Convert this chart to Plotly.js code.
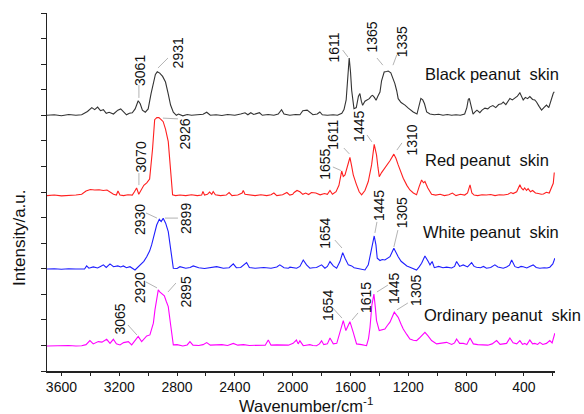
<!DOCTYPE html>
<html>
<head>
<meta charset="utf-8">
<script src="https://cdn.plot.ly/plotly-3.0.1.min.js"></script>
<style>html,body{margin:0;padding:0;background:#fff;}#chart{width:584px;height:414px;}</style>
</head>
<body>
<div id="chart"></div>
<script>
// ---- Data: [wavenumber (cm-1), relative intensity (a.u.)] ----
const blackSkin = [[3700,0.0],[3650,0.02],[3600,-0.02],[3550,0.03],[3500,0.0],[3460,0.02],[3420,0.15],[3390,0.3],[3370,0.22],[3350,0.32],[3330,0.18],[3310,0.22],[3290,0.08],[3270,0.12],[3240,0.05],[3210,0.2],[3190,0.25],[3170,0.15],[3150,0.02],[3130,0.08],[3110,0.1],[3090,0.25],[3069,0.57],[3055,0.45],[3040,0.2],[3020,0.12],[3000,0.25],[2980,0.85],[2965,1.3],[2950,1.6],[2937,1.7],[2920,1.65],[2900,1.52],[2880,1.3],[2862,0.86],[2845,0.4],[2826,0.12],[2805,0.0],[2790,0.05],[2760,-0.02],[2730,0.03],[2700,0.0],[2660,0.02],[2620,0.04],[2595,0.12],[2570,0.0],[2530,0.02],[2490,-0.01],[2450,0.03],[2400,0.0],[2360,0.05],[2330,0.1],[2310,0.02],[2290,0.1],[2270,0.03],[2250,0.08],[2230,0.1],[2210,0.0],[2170,0.03],[2130,0.0],[2100,0.05],[2077,0.22],[2060,0.05],[2020,0.0],[1980,0.03],[1950,0.02],[1930,0.18],[1900,0.2],[1880,0.12],[1860,0.02],[1830,0.05],[1812,0.13],[1795,0.02],[1760,0.0],[1720,0.02],[1690,0.0],[1660,0.08],[1645,0.22],[1630,0.6],[1620,1.6],[1609,2.24],[1600,1.7],[1592,0.98],[1576,0.26],[1560,0.3],[1545,0.75],[1535,0.85],[1525,0.55],[1516,0.39],[1500,0.55],[1488,0.59],[1470,0.65],[1455,0.76],[1447,0.78],[1435,0.7],[1423,0.59],[1410,0.75],[1396,0.91],[1385,1.35],[1367,1.69],[1350,1.71],[1339,1.73],[1321,1.66],[1305,1.45],[1293,1.24],[1280,0.95],[1270,0.65],[1250,0.5],[1235,0.45],[1223,0.4],[1200,0.28],[1180,0.18],[1166,0.13],[1140,0.05],[1125,0.4],[1113,0.66],[1100,0.6],[1088,0.45],[1073,0.13],[1050,0.05],[1020,0.02],[990,0.04],[960,0.0],[930,0.03],[900,0.0],[870,0.02],[840,0.0],[810,0.05],[795,0.3],[785,0.62],[778,0.66],[768,0.4],[752,0.05],[740,0.12],[725,0.2],[705,0.1],[690,0.2],[670,0.28],[650,0.25],[635,0.33],[615,0.38],[595,0.3],[575,0.42],[555,0.45],[543,0.52],[525,0.42],[510,0.55],[497,0.66],[480,0.6],[460,0.7],[445,0.75],[428,0.88],[415,0.7],[405,0.6],[390,0.7],[375,0.65],[359,0.73],[340,0.62],[325,0.6],[313,0.52],[295,0.35],[278,0.2],[262,0.3],[244,0.4],[228,0.3],[215,0.55],[197,0.86],[190,0.92]];

const redSkin = [[3700,0.0],[3650,0.02],[3600,-0.01],[3550,0.0],[3500,0.02],[3460,0.05],[3430,0.18],[3400,0.24],[3370,0.22],[3340,0.23],[3310,0.2],[3285,0.22],[3260,0.12],[3240,0.05],[3220,0.02],[3209,0.18],[3195,0.02],[3170,0.0],[3140,0.03],[3110,0.02],[3095,0.15],[3080,0.3],[3065,0.05],[3050,0.2],[3030,0.4],[3010,0.5],[2990,0.65],[2970,1.8],[2955,2.97],[2940,3.05],[2926,3.05],[2910,2.97],[2896,2.89],[2880,2.6],[2861,2.11],[2845,1.0],[2831,0.03],[2810,0.0],[2780,0.02],[2740,0.0],[2700,0.03],[2660,0.0],[2630,0.02],[2621,0.16],[2610,0.02],[2590,0.05],[2575,0.14],[2560,0.05],[2550,0.16],[2535,0.03],[2500,0.0],[2460,0.02],[2440,0.12],[2420,0.0],[2380,0.02],[2350,0.1],[2342,0.2],[2330,0.05],[2300,0.02],[2260,0.0],[2220,0.03],[2180,0.0],[2150,0.03],[2130,0.1],[2110,0.0],[2070,0.03],[2040,0.12],[2020,0.02],[2000,0.05],[1990,0.12],[1970,0.2],[1950,0.15],[1930,0.05],[1910,0.1],[1890,0.04],[1870,0.12],[1840,0.1],[1810,0.03],[1780,0.08],[1760,0.05],[1742,0.2],[1725,0.05],[1700,0.15],[1680,0.4],[1661,0.96],[1650,0.75],[1638,0.81],[1620,1.2],[1604,1.49],[1592,1.15],[1581,0.81],[1560,0.45],[1540,0.15],[1523,0.03],[1500,0.2],[1477,0.55],[1454,1.2],[1436,2.0],[1420,1.59],[1410,1.1],[1401,0.74],[1385,0.9],[1362,1.07],[1345,1.2],[1327,1.36],[1300,1.62],[1285,1.45],[1270,1.2],[1250,0.9],[1235,0.68],[1210,0.4],[1189,0.22],[1165,0.1],[1143,0.03],[1125,0.35],[1108,0.61],[1095,0.5],[1085,0.55],[1065,0.3],[1039,0.05],[1010,0.02],[980,0.05],[950,0.0],[920,0.03],[895,0.1],[870,0.0],[840,0.05],[810,0.02],[790,0.1],[773,0.42],[760,0.1],[745,0.02],[720,0.0],[690,0.03],[660,0.02],[630,0.04],[600,0.0],[570,0.03],[540,0.02],[510,0.05],[490,0.12],[475,0.08],[450,0.15],[428,0.42],[418,0.3],[405,0.22],[395,0.3],[382,0.2],[371,0.27],[355,0.15],[340,0.2],[320,0.1],[300,0.08],[280,0.05],[265,0.06],[245,0.13],[225,0.1],[210,0.3],[197,0.48],[190,0.9]];

const whiteSkin = [[3700,0.0],[3650,0.01],[3600,-0.01],[3550,0.01],[3500,0.0],[3460,0.01],[3440,0.0],[3426,0.12],[3410,0.03],[3380,0.08],[3350,0.04],[3330,0.1],[3310,0.16],[3290,0.06],[3264,0.2],[3240,0.09],[3210,0.12],[3190,0.08],[3172,0.12],[3150,0.05],[3126,0.09],[3091,-0.04],[3057,0.16],[3030,0.3],[3010,0.48],[2990,0.7],[2976,0.94],[2960,1.3],[2941,1.72],[2923,1.94],[2910,1.85],[2896,1.98],[2879,1.79],[2861,1.46],[2843,0.74],[2826,0.03],[2800,0.02],[2780,0.09],[2740,0.03],[2710,0.06],[2688,0.12],[2650,0.05],[2610,0.02],[2570,0.06],[2526,0.09],[2480,0.03],[2440,0.05],[2411,0.2],[2390,0.05],[2360,0.06],[2319,0.25],[2300,0.06],[2260,0.03],[2200,0.06],[2150,0.03],[2110,0.08],[2089,0.16],[2060,0.05],[2030,0.03],[2019,0.07],[1995,0.04],[1973,0.03],[1950,0.1],[1927,0.35],[1904,0.16],[1881,0.03],[1860,0.05],[1835,0.06],[1800,0.16],[1777,0.03],[1760,0.1],[1742,0.29],[1719,0.12],[1696,0.03],[1673,0.29],[1654,0.64],[1638,0.42],[1615,0.16],[1592,0.12],[1575,0.05],[1558,0.03],[1523,0.0],[1500,-0.04],[1477,0.16],[1454,0.87],[1436,1.29],[1424,0.94],[1415,0.42],[1396,0.33],[1380,0.37],[1362,0.35],[1345,0.4],[1327,0.48],[1300,0.81],[1285,0.62],[1270,0.48],[1250,0.3],[1235,0.22],[1210,0.12],[1189,0.07],[1165,0.02],[1143,-0.04],[1125,0.08],[1108,0.22],[1085,0.51],[1072,0.35],[1062,0.29],[1050,0.16],[1035,0.29],[1020,0.05],[990,0.1],[960,0.05],[935,0.07],[900,0.04],[880,0.1],[866,0.29],[845,0.1],[820,0.16],[790,0.08],[762,0.25],[745,0.1],[728,0.07],[700,0.05],[680,0.1],[659,0.03],[630,0.06],[601,0.16],[580,0.08],[560,0.05],[543,0.03],[520,0.08],[500,0.15],[485,0.35],[470,0.2],[462,0.09],[440,0.05],[420,0.1],[405,0.09],[380,0.04],[360,0.1],[336,0.16],[315,0.06],[290,0.03],[260,0.05],[240,0.04],[221,0.07],[200,0.2],[186,0.42]];

const ordinarySkin = [[3700,0.0],[3650,0.01],[3600,0.0],[3550,0.02],[3500,0.0],[3460,0.01],[3430,0.05],[3403,0.21],[3380,0.08],[3360,0.12],[3345,0.17],[3320,0.15],[3287,0.26],[3264,0.1],[3241,0.26],[3220,0.08],[3195,0.04],[3170,0.13],[3137,0.17],[3114,0.04],[3091,0.23],[3069,0.37],[3045,0.17],[3025,0.3],[3010,0.39],[2988,0.43],[2964,0.89],[2953,1.41],[2940,1.9],[2930,2.19],[2918,2.1],[2907,2.06],[2888,1.96],[2875,1.75],[2861,1.54],[2843,0.76],[2826,0.04],[2800,0.05],[2760,0.0],[2730,0.04],[2711,0.17],[2690,0.03],[2650,0.02],[2620,0.05],[2595,0.13],[2570,0.03],[2530,0.04],[2490,0.05],[2450,0.02],[2411,0.1],[2380,0.03],[2340,0.05],[2300,0.02],[2260,0.03],[2220,0.05],[2190,0.03],[2169,0.23],[2150,0.03],[2110,0.04],[2060,0.05],[2030,0.03],[1997,0.1],[1974,0.23],[1962,0.08],[1950,0.2],[1927,0.01],[1900,0.05],[1881,0.05],[1860,0.02],[1835,0.01],[1815,0.08],[1800,0.2],[1785,0.05],[1760,0.08],[1742,0.31],[1719,0.08],[1695,0.1],[1673,0.53],[1650,0.99],[1632,0.6],[1604,0.95],[1581,0.53],[1558,0.08],[1523,0.05],[1489,0.01],[1475,0.3],[1465,0.73],[1452,1.6],[1438,2.03],[1428,1.5],[1420,0.99],[1401,0.6],[1380,0.62],[1362,0.66],[1345,0.8],[1327,0.93],[1297,1.32],[1270,1.12],[1250,0.85],[1235,0.66],[1212,0.46],[1189,0.27],[1165,0.22],[1143,0.21],[1125,0.3],[1108,0.4],[1085,0.53],[1065,0.4],[1039,0.21],[1004,0.08],[970,0.1],[935,0.14],[900,0.06],[880,0.12],[866,0.27],[845,0.1],[820,0.1],[795,0.06],[773,0.31],[750,0.08],[720,0.05],[681,0.05],[650,0.03],[620,0.08],[589,0.21],[565,0.06],[543,0.08],[520,0.1],[497,0.31],[475,0.12],[450,0.08],[428,0.21],[410,0.06],[394,0.1],[380,0.05],[359,0.23],[340,0.08],[325,0.1],[305,0.06],[290,0.14],[270,0.06],[244,0.1],[221,0.21],[205,0.12],[186,0.5]];

const seriesNames = ['Black peanut\u00A0 skin', 'Red peanut\u00A0 skin', 'White peanut\u00A0 skin', 'Ordinary peanut\u00A0 skin'];
const xTickValues = [3600, 3200, 2800, 2400, 2000, 1600, 1200, 800, 400];
const xTickLabels = ['3600', '3200', '2800', '2400', '2000', '1600', '1200', '800', '400'];

// peak labels (text) per spectrum
const blackPeaks = ['3061', '2931', '1611', '1365', '1335'];
const redPeaks = ['2926', '3070', '1655', '1611', '1445', '1310'];
const whitePeaks = ['2930', '2899', '1654', '1445', '1305'];
const ordinaryPeaks = ['3065', '2920', '2895', '1654', '1615', '1445', '1305'];

// ---- Layout / placement (not data) ----
const offsets = [10.0, 6.86, 3.99, 0.98];
const colors = ['#333333', '#ff1f1f', '#1f1fff', '#ff00ff'];
// label centre [x,y] and leader line [x0,y0,x1,y1], in axis units
const blackPlace = [
  [3057, 11.77, 3064, 11.18, 3064, 10.68],
  [2797, 12.44, 2863, 12.24, 2932, 11.85],
  [1711, 12.67, 1654, 12.55, 1618, 12.28],
  [1448, 13.06, 1417, 12.24, 1376, 11.96],
  [1241, 12.87, 1279, 12.37, 1306, 11.96]
];
const redPlace = [
  [2748, 9.27, 2898, 9.89, 2794, 9.86],
  [3053, 8.37, 3064, 7.74, 3064, 7.27],
  [1777, 8.10, 1722, 7.98, 1666, 7.84],
  [1722, 9.23, 1646, 8.72, 1608, 8.49],
  [1542, 9.58, 1486, 9.23, 1452, 8.96],
  [1171, 9.03, 1244, 8.92, 1279, 8.64]
];
const whitePlace = [
  [3057, 5.94, 3015, 6.18, 2939, 5.98],
  [2739, 5.98, 2884, 5.98, 2794, 5.98],
  [1777, 5.40, 1708, 5.12, 1659, 4.81],
  [1403, 6.49, 1417, 5.83, 1431, 5.40],
  [1241, 6.18, 1272, 5.51, 1300, 4.85]
];
const ordinaryPlace = [
  [3192, 2.03, 3140, 1.80, 3078, 1.41],
  [3057, 3.27, 3015, 3.48, 2939, 3.25],
  [2735, 3.09, 2808, 3.44, 2863, 3.09],
  [1756, 2.58, 1722, 2.46, 1659, 2.07],
  [1493, 2.89, 1548, 2.27, 1590, 1.99],
  [1299, 3.21, 1341, 3.36, 1417, 3.09],
  [1147, 3.17, 1203, 2.66, 1279, 2.39]
];
const namePlace = [[1099, 11.63], [1099, 8.25], [1113, 5.44], [1106, 2.19]];

const spectra = [blackSkin, redSkin, whiteSkin, ordinarySkin];
const peakSets = [blackPeaks, redPeaks, whitePeaks, ordinaryPeaks];
const places = [blackPlace, redPlace, whitePlace, ordinaryPlace];

const FONT = 'Liberation Sans, Arial, sans-serif';
const traces = spectra.map((s, i) => ({
  x: s.map(p => p[0]),
  y: s.map(p => p[1] + offsets[i]),
  type: 'scatter', mode: 'lines', name: seriesNames[i],
  line: {color: colors[i], width: 1.1},
  hoverinfo: 'skip'
}));

const annotations = [];
const shapes = [];
peakSets.forEach((labels, i) => {
  labels.forEach((t, j) => {
    const p = places[i][j];
    annotations.push({x: p[0], y: p[1], xref: 'x', yref: 'y', text: t, textangle: -90,
      showarrow: false, xanchor: 'center', yanchor: 'middle',
      font: {family: FONT, size: 14, color: '#111'}});
    shapes.push({type: 'line', xref: 'x', yref: 'y', x0: p[2], y0: p[3], x1: p[4], y1: p[5],
      line: {color: '#a0a0a0', width: 0.8}});
  });
});
seriesNames.forEach((n, i) => {
  annotations.push({x: namePlace[i][0], y: namePlace[i][1], xref: 'x', yref: 'y', text: n,
    showarrow: false, xanchor: 'left', yanchor: 'middle',
    font: {family: FONT, size: 16.5, color: '#111'}});
});
annotations.push({x: 0.51, y: -0.096, xref: 'paper', yref: 'paper', text: 'Wavenumber/cm<sup>-1</sup>',
  showarrow: false, xanchor: 'center', yanchor: 'middle', font: {family: FONT, size: 16.5, color: '#111'}});
annotations.push({x: -0.053, y: 0.372, xref: 'paper', yref: 'paper', text: 'Intensity/a.u.', textangle: -90,
  showarrow: false, xanchor: 'center', yanchor: 'middle', font: {family: FONT, size: 17, color: '#111'}});

const layout = {
  width: 584, height: 414,
  margin: {l: 47, r: 29, t: 13, b: 43},
  paper_bgcolor: '#fff', plot_bgcolor: '#fff',
  showlegend: false,
  xaxis: {
    range: [3700, 185], showgrid: false, zeroline: false,
    showline: true, linecolor: '#222', linewidth: 1.5,
    ticks: 'outside', ticklen: 3, tickwidth: 1, tickcolor: '#222',
    tickvals: xTickValues, ticktext: xTickLabels,
    minor: {dtick: 200, tick0: 0, ticks: 'outside', ticklen: 3, tickcolor: '#222'},
    tickfont: {family: FONT, size: 14, color: '#111'}
  },
  yaxis: {
    range: [0, 14], showgrid: false, zeroline: false,
    showline: true, linecolor: '#222', linewidth: 1.5,
    ticks: 'outside', ticklen: 5, tickwidth: 1, tickcolor: '#222',
    dtick: 1, tick0: 0, showticklabels: false
  },
  annotations: annotations,
  shapes: shapes
};

Plotly.newPlot('chart', traces, layout, {staticPlot: true, displayModeBar: false});
</script>
</body>
</html>
